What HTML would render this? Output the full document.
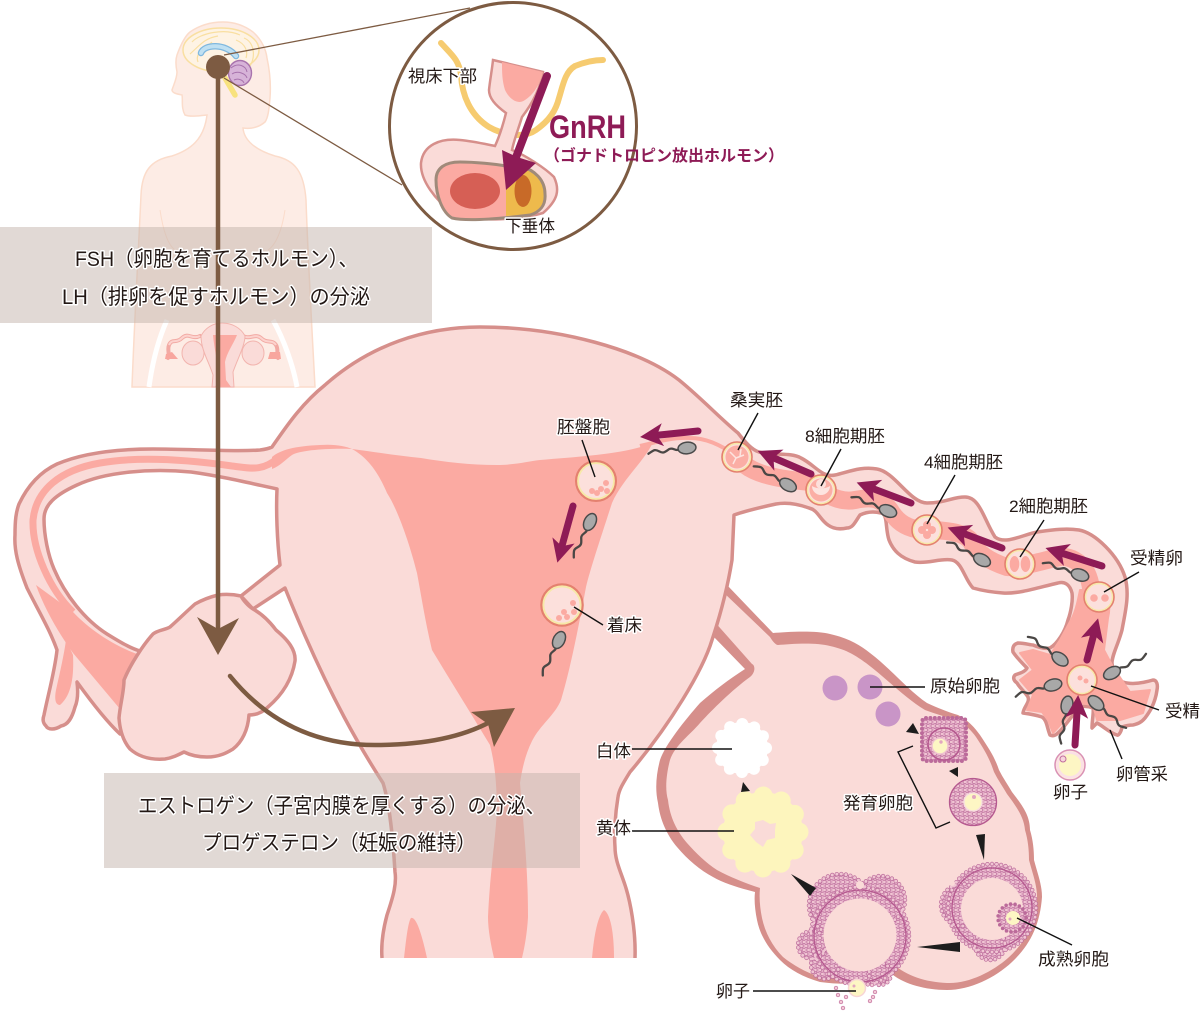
<!DOCTYPE html>
<html lang="ja"><head><meta charset="utf-8"><title>図</title>
<style>
html,body{margin:0;padding:0;background:#fff}
svg{display:block}
text{font-family:"Liberation Sans","Noto Sans CJK JP",sans-serif;fill:#231815}
.t{font-size:17px;paint-order:stroke;stroke:#fff;stroke-width:3px;stroke-linejoin:round}
.b{font-size:21px;paint-order:stroke;stroke:#fff;stroke-width:3px;stroke-linejoin:round}
.l{stroke:#111;stroke-width:1.4;fill:none}
.a{stroke:#8e1b56;stroke-width:7;fill:none;stroke-linecap:round;marker-end:url(#ah)}
</style></head><body>
<svg width="1202" height="1015" viewBox="0 0 1202 1015" xmlns="http://www.w3.org/2000/svg">
<defs>
<marker id="ah" markerUnits="userSpaceOnUse" markerWidth="30" markerHeight="30" refX="14" refY="15" orient="auto"><path d="M24,15 L1,3.5 L7,15 L1,26.5Z" fill="#8e1b56"/></marker>
<pattern id="n" width="4.6" height="8" patternUnits="userSpaceOnUse"><rect width="4.6" height="8" fill="#e3adc6"/><circle cx="1.2" cy="2" r="1.7" fill="#f0c5d3" stroke="#bb6a9a" stroke-width=".7"/><circle cx="3.5" cy="6" r="1.7" fill="#f0c5d3" stroke="#bb6a9a" stroke-width=".7"/></pattern>
<g id="s"><path d="M7,0 c4,-3 7,3 11,1 s6,-4 10,-1 s5,2 11,-1" fill="none" stroke="#4a4745" stroke-width="2.3" stroke-linecap="round"/><ellipse cx="0" cy="0" rx="9" ry="5.8" fill="#a8a8a8" stroke="#4a4a4a" stroke-width="1.5"/></g>
<g id="z"><circle r="15" fill="#f7e9a8" stroke="#e4816f" stroke-width="1.6"/><circle r="12.8" fill="#fce0dc"/></g>
<g id="b3"><circle cx="992" cy="908" r="44"/><circle cx="962" cy="905" r="21"/><circle cx="990" cy="945" r="15"/></g>
<g id="b4"><circle cx="860" cy="936" r="49"/><circle cx="840" cy="905" r="31"/><circle cx="881" cy="900" r="24"/><circle cx="812" cy="945" r="14"/><circle cx="825" cy="965" r="14"/><circle cx="880" cy="974" r="11"/></g>
</defs>

<!-- body silhouette -->
<path d="M207,115 C198,116 190,117 185,115 C181,108 183,100 182,95 C177,94 172,93 172,90 C174,84 177,78 177,72 C175,62 176,58 177,55 C181,44 185,36 190,32 C200,25 212,22 223,22 C235,22 245,26 253,32 C262,40 266,50 267,58 C270,72 271,85 270,98 C269,110 268,118 265,122 C258,128 250,129 243,128 C244,140 255,150 275,156 C295,160 304,172 306,200 C308,260 312,330 315,387 L132,387 C134,330 138,260 141,195 C142,172 150,160 172,156 C190,150 204,140 207,115Z" fill="#fdece5" stroke="#fbdccb" stroke-width="1.5"/>
<path d="M167,320 C158,340 152,365 149,387 M273,320 C284,340 293,365 297,387" stroke="#fff" stroke-width="5" fill="none"/>
<path d="M160,210 C163,230 168,245 175,250 M285,210 C282,230 276,245 268,250" stroke="#fbdccb" stroke-width="1" fill="none"/>
<!-- mini uterus -->
<path d="M200,336 C192,340 188,332 182,338 C176,344 172,338 169,345 C167,350 170,354 168,358 M243,336 C250,340 255,333 261,338 C267,344 272,339 276,345 C279,350 276,354 278,358" stroke="#f2aaa4" stroke-width="4" fill="none" stroke-linecap="round"/>
<path d="M200,336 C192,340 188,332 182,338 C176,344 172,338 169,345 M243,336 C250,340 255,333 261,338 C267,344 272,339 276,345" stroke="#fcd3ce" stroke-width="2" fill="none"/>
<path d="M166,354 L165,359 L178,359 L172,352Z M270,352 L268,359 L281,359 L280,352Z" fill="#f8a69e"/>
<ellipse cx="193" cy="353" rx="11" ry="12" fill="#fadbd8" stroke="#f2b4ae"/>
<ellipse cx="253" cy="353" rx="11" ry="12" fill="#fadbd8" stroke="#f2b4ae"/>
<path d="M201,336 C205,328 213,323 222,323 C232,323 241,328 245,336 C245,345 238,358 233,372 L234,387 L212,387 L213,375 C209,362 201,350 201,336Z" fill="#fadbd8" stroke="#f2b4ae"/>
<path d="M213,335 L237,335 C233,345 227,352 225,362 L226,380 L231,387 L215,387 L219,380 C218,362 214,348 213,335Z" fill="#fbaaa2"/>
<!-- brain -->
<ellipse cx="221" cy="50" rx="38" ry="22" fill="#fef3e4" stroke="#f9dfa1" stroke-width="1.5"/>
<path d="M192,42 C200,33 225,28 240,35 M190,54 C200,45 205,38 218,36 M244,38 C254,42 256,56 250,66 M198,62 C194,52 208,46 212,42 M236,40 C246,44 248,52 246,58" stroke="#f9dfa1" stroke-width="1.2" fill="none"/>
<path d="M201,53 C204,44 226,43 236,56" fill="none" stroke="#7fb8df" stroke-width="6.5" stroke-linecap="round"/>
<path d="M201,53 C204,44 226,43 236,56" fill="none" stroke="#bfe0f2" stroke-width="4" stroke-linecap="round"/>
<path d="M225,78 L235,95" stroke="#f8e27e" stroke-width="5.5" stroke-linecap="round" fill="none"/>
<ellipse cx="240" cy="73" rx="11.5" ry="12.5" fill="#d7b3d8" stroke="#a873ad" stroke-width="1.4"/>
<path d="M231,68 C238,62 246,66 247,72 M232,74 C238,70 246,74 247,78 M234,80 C238,78 243,80 244,83" stroke="#a873ad" fill="none"/>

<!-- big ovary shapes (behind uterus) -->
<path d="M727,585 L773,633 C785,632 815,630 830,634 C848,638 860,645 870,653 C890,668 908,690 927,703 C938,708 948,712 958,715 C968,720 975,728 980,735 C990,750 995,758 999,770 C1003,778 1008,785 1012,792 C1022,805 1030,815 1030,830 C1033,840 1034,850 1034,860 C1038,875 1042,885 1042,897 C1040,925 1030,945 1012,962 C995,978 970,990 947,990 C925,990 905,984 893,975 C875,983 850,986 820,982 C803,977 790,970 780,960 C768,948 760,935 757,920 C755,910 754,900 755,892 C740,888 725,884 713,877 C700,870 688,860 677,847 C667,835 660,820 658,803 C655,790 656,775 660,760 C665,745 685,720 700,703 C715,690 728,680 745,669 L712,635 L700,620Z" fill="#d68f8b"/>
<path d="M723,592 L770,637 C773,642 776,645 778,645 C790,644 815,642 830,646 C848,650 856,656 866,663 C886,678 905,698 925,710 C936,714 946,717 956,720 C965,724 971,730 976,737 C986,752 990,760 994,772 C998,780 1003,787 1007,794 C1016,806 1024,817 1025,830 C1028,840 1029,850 1029,860 C1033,875 1037,885 1037,897 C1035,922 1026,942 1008,958 C992,972 968,984 947,983 C925,982 907,976 893,964 C875,975 850,980 820,977 C805,972 793,965 783,957 C772,946 765,932 762,918 C760,908 759,898 760,888 C745,883 730,877 717,870 C706,863 696,853 687,843 C677,831 670,818 668,800 C665,790 666,775 670,760 C675,745 690,735 700,723 C712,710 732,690 750,677 C756,672 755,665 752,664 L713,620Z" fill="#fadbd8"/>

<!-- uterus + tubes -->
<path id="u" d="M382,958 C381,945 383,930 387,915 C392,900 397,885 395,872 C393,840 390,805 383,783 C365,755 330,700 285,588 L253,609 L241,596 L280,565 C277,540 276,510 277,489 C245,482 220,476 191,472 C150,468 105,472 77,485 C55,495 44,505 44,519 C44,535 48,555 54,569 C65,595 85,620 107,634 C120,642 130,648 140,651 L150,700 L120,734 C105,720 90,700 77,682 C78,690 78,700 75,707 C72,718 68,725 61,726 C55,730 48,730 46,726 C42,722 43,718 44,715 C48,695 55,670 57,650 C50,630 38,610 27,588 C18,565 14,550 15,535 C15,520 16,512 19,504 C28,485 40,472 57,464 C85,452 120,449 153,449 C190,449 235,452 260,450 C268,449 270,448 272,447 C284,430 300,405 325,385 C370,345 425,327 480,327 C560,327 640,350 679,380 C700,397 722,420 738,433 C745,442 752,450 759,452 C775,456 790,452 801,458 C815,465 822,478 835,475 C848,472 862,466 877,469 C895,472 910,503 927,503 C945,503 952,497 965,497 C980,497 984,520 995,537 C1005,545 1022,535 1037,532 C1052,530 1065,528 1079,530 C1095,533 1118,555 1125,577 C1130,595 1125,613 1122,630 C1118,645 1112,655 1112,663 C1113,675 1118,682 1123,682 C1132,685 1143,683 1153,680 C1157,680 1158,685 1157,690 C1155,705 1148,714 1145,718 C1140,724 1136,724 1133,725 C1128,725 1125,726 1122,727 C1121,733 1118,736 1117,735 C1110,733 1103,726 1097,723 L1092,728 C1092,720 1094,712 1093,708 C1088,706 1084,706 1080,707 C1072,715 1064,728 1058,733 C1055,736 1052,736 1050,735 C1047,728 1047,720 1042,717 C1036,715 1030,714 1023,713 C1024,706 1030,703 1028,697 C1024,691 1020,688 1017,683 C1013,680 1013,677 1015,675 C1020,673 1025,672 1027,668 C1022,663 1017,658 1013,652 C1012,647 1014,644 1018,643 C1025,643 1030,645 1033,645 C1040,648 1045,649 1050,648 C1057,644 1065,632 1068,620 C1071,612 1073,600 1072,593 C1070,585 1065,581 1058,583 C1040,587 1020,594 1003,593 C990,592 980,590 973,588 C965,580 962,562 952,560 C940,558 928,564 915,562 C900,558 893,550 889,540 C885,528 888,514 881,513 C873,511 866,512 860,515 C855,522 853,528 847,528 C838,530 832,528 828,525 C820,520 818,510 809,508 C798,504 787,502 776,504 C762,507 748,510 734,515 L732,560 C728,585 722,610 712,640 C703,670 670,725 630,772 C622,785 619,790 618,797 C615,815 614,835 615,847 C615,860 620,870 625,885 C630,900 636,930 635,958" fill="#fadbd8" stroke="#d68f8b" stroke-width="3.5" stroke-linejoin="round"/>

<!-- left tube lumen -->
<path d="M278,458 C262,472 250,468 232,466 C190,460 140,456 100,463 C60,470 36,490 33,520 C32,550 50,590 73,612" fill="none" stroke="#fbaaa2" stroke-width="7"/>
<path d="M73,612 C85,625 110,645 140,655 L130,715 L120,709 L73,653 C60,635 45,610 36,585Z" fill="#fbaaa2"/>
<path d="M66,640 L73,655 C74,675 72,695 60,705 C54,705 55,695 56,690 C60,672 64,655 66,640Z" fill="#fbaaa2"/>
<!-- cavity -->
<path d="M272,457 C280,450 295,446 320,445 C335,444 345,446 352,449 C375,452 400,456 421,458 C445,462 470,465 497,465 C515,465 530,461 540,460 C575,457 610,455 637,448 L652,444 C645,460 622,480 612,503 C600,540 590,570 586,587 C578,630 570,670 561,700 C555,715 540,725 532,741 C525,755 522,770 520,783 C524,830 528,870 528,917 C527,935 524,950 522,958 L494,958 C491,945 488,930 488,917 C490,870 497,830 497,803 C496,780 495,765 490,745 C475,720 450,680 432,650 C425,620 422,600 417,573 C410,545 398,510 387,493 C378,472 368,458 352,449 C330,448 300,450 292,455 C285,460 280,466 272,469Z" fill="#fbaaa2"/>
<path d="M404,958 C406,940 408,922 411,918 C417,916 423,940 427,958Z" fill="#fbaaa2"/>
<path d="M592,958 C594,935 598,915 604,910 C612,915 614,940 614,958Z" fill="#fbaaa2"/>

<!-- right tube lumen -->
<path d="M640,446 C660,441 675,437 690,438 C705,438 720,444 736,456" fill="none" stroke="#fbaaa2" stroke-width="4"/>
<path d="M745,465 C760,477 790,480 810,482 C825,495 840,503 855,500 C870,497 880,497 890,510 C897,522 908,530 926,530 C945,530 962,532 970,540 C975,550 985,560 1007,567 C1020,568 1045,560 1060,557 C1070,556 1080,562 1085,570 C1090,578 1092,590 1092,600" fill="none" stroke="#fbaaa2" stroke-width="18" stroke-linecap="round" stroke-linejoin="round"/>
<path d="M1080,590 L1105,590 C1110,600 1110,610 1108,618 L1104,650 L1113,667 L1130,692 L1150,690 L1143,713 L1120,720 L1097,720 L1093,705 L1080,703 L1065,720 L1053,733 L1048,720 L1042,712 L1027,710 L1033,695 L1020,680 L1033,670 L1020,653 L1033,650 L1050,655 L1060,640 L1072,618 C1076,610 1078,600 1080,590Z" fill="#fbaaa2" stroke="#fbaaa2" stroke-width="2" stroke-linejoin="round"/>

<!-- left ovary -->
<path d="M241,596 C232,594 225,594 218,595 C210,597 202,600 195,604 C186,612 178,620 170,627 C165,630 158,630 153,634 C143,645 130,665 124,680 C124,692 120,705 119,718 C120,733 124,742 130,749 C140,758 152,760 165,759 C172,758 178,755 184,752 C192,756 200,757 207,757 C220,757 228,752 233,749 C242,742 248,730 249,715 C258,715 264,711 268,707 C282,695 292,680 295,661 C296,650 288,640 276,630 C270,622 262,614 253,609 C248,606 243,600 241,596Z" fill="#fadbd8" stroke="#d68f8b" stroke-width="3.5" stroke-linejoin="round"/>

<!-- ovary contents -->
<circle cx="835" cy="688" r="12.5" fill="#c995c7"/><circle cx="870" cy="687" r="12.5" fill="#c995c7"/><circle cx="888" cy="714" r="12.5" fill="#c995c7"/>
<!-- follicle 1 -->
<rect x="922" y="718" width="44" height="43" rx="4" fill="url(#n)"/>
<rect x="922" y="718" width="44" height="43" rx="4" fill="none" stroke="#bb6a9a" stroke-width="4" stroke-dasharray="0 4.4" stroke-linecap="round"/>
<circle cx="944" cy="744" r="16" fill="url(#n)" stroke="#b5588f" stroke-width="1.5"/>
<circle cx="940" cy="746" r="8" fill="#fdf6c4" stroke="#f0c3d0" stroke-width="1.5"/><circle cx="941" cy="742" r="1.7" fill="#e2a6c0"/>
<!-- follicle 2 -->
<circle cx="973" cy="802" r="23.5" fill="url(#n)" stroke="#b5588f" stroke-width="1.3"/>
<circle cx="973" cy="802" r="9" fill="#fdf6c4" stroke="#f8dfdf" stroke-width="1.5"/><circle cx="974" cy="797" r="2" fill="#e2a6c0"/>
<!-- follicle 3 -->
<use href="#b3" fill="url(#n)"/>
<use href="#b3" fill="none" stroke="#bb6a9a" stroke-width="4.4" stroke-dasharray="0 4.6" stroke-linecap="round"/>
<use href="#b3" fill="none" stroke="#f0c5d3" stroke-width="3" stroke-dasharray="0 4.6" stroke-linecap="round"/>
<circle cx="992" cy="908" r="40" fill="none" stroke="#b5588f" stroke-width="1.3"/>
<circle cx="992" cy="909" r="31" fill="#fadbd8"/>
<circle cx="952" cy="883" r="3" fill="#fadbd8"/>
<circle cx="1012" cy="918" r="14" fill="url(#n)"/>
<circle cx="1012" cy="918" r="14" fill="none" stroke="#bb6a9a" stroke-width="3.6" stroke-dasharray="0 4.6" stroke-linecap="round"/>
<circle cx="1013" cy="918" r="7" fill="#fdf6c4"/><circle cx="1010" cy="919" r="1.5" fill="#e2a6c0"/>
<!-- follicle 4 -->
<use href="#b4" fill="url(#n)"/>
<use href="#b4" fill="none" stroke="#bb6a9a" stroke-width="4.4" stroke-dasharray="0 4.6" stroke-linecap="round"/>
<use href="#b4" fill="none" stroke="#f0c5d3" stroke-width="3" stroke-dasharray="0 4.6" stroke-linecap="round"/>
<circle cx="860" cy="936" r="46" fill="none" stroke="#b5588f" stroke-width="1.3"/>
<circle cx="860" cy="935" r="36.5" fill="#fadbd8"/>
<circle cx="860" cy="885" r="4" fill="#fadbd8"/>
<g fill="#f3c9d5" stroke="#c06d9d" stroke-width=".7"><circle cx="838" cy="995" r="1.8"/><circle cx="841" cy="1002" r="1.8"/><circle cx="843" cy="1008" r="1.8"/><circle cx="836" cy="988" r="1.8"/><circle cx="872" cy="985" r="1.8"/><circle cx="875" cy="992" r="1.8"/><circle cx="870" cy="1001" r="1.8"/><circle cx="873" cy="997" r="1.8"/><circle cx="846" cy="997" r="1.8"/></g>
<circle cx="857" cy="988" r="8.5" fill="#fdf6c4" stroke="#f8d5d5" stroke-width="1.5"/><circle cx="854" cy="986" r="1.5" fill="#e2a6c0"/>
<!-- white body -->
<circle cx="742" cy="748" r="26" fill="#fff"/>
<circle cx="742" cy="748" r="24" fill="none" stroke="#fff" stroke-width="12" stroke-dasharray="0 12.57" stroke-linecap="round"/>
<!-- yellow body -->
<circle cx="763" cy="832" r="40" fill="#fdf5bd"/>
<circle cx="763" cy="832" r="36" fill="none" stroke="#fdf5bd" stroke-width="19" stroke-dasharray="0 18.85" stroke-linecap="round"/>
<polygon points="763,820 770,824 776,823 775,830 775,838 767,840 763,847 756,842 750,835 755,829 755,822" fill="#fadbd8"/>
<!-- triangles -->
<g fill="#1d1d1d"><polygon points="906,732 913,723 919,734"/><polygon points="949,771 958,767 958,777"/><polygon points="976,835 985,834 984,860"/><polygon points="960,942 960,952 917,947"/><polygon points="816,888 810,896 791,874"/><polygon points="743,782 741,792 750,791"/></g>
<path class="l" d="M913,746 L898,752 L936,828 L950,822"/>

<!-- zygotes -->
<use href="#z" x="737" y="457"/>
<circle cx="737" cy="457" r="11.5" fill="#fbaea5"/>
<path d="M730,452 L736,458 L733,464 M736,458 L744,455 M741,449 L740,456" stroke="#fde4e0" stroke-width="1.5" fill="none"/>
<use href="#z" x="821" y="490"/>
<circle cx="821" cy="490" r="11.5" fill="#fbaea5"/><path d="M812,486 A9,9 0 0 0 830,486 A12,7 0 0 1 812,486Z" fill="#fde4e0"/><circle cx="821" cy="484" r="5" fill="#fce0dc"/>
<use href="#z" x="927" y="530"/>
<g fill="#fbaaa2"><circle cx="922" cy="530" r="4"/><circle cx="932" cy="530" r="4"/><circle cx="927" cy="525" r="4"/><circle cx="927" cy="535" r="4"/></g>
<use href="#z" x="1020" y="564"/>
<ellipse cx="1014.5" cy="564" rx="4.8" ry="8" fill="#fbaaa2"/><ellipse cx="1025.5" cy="564" rx="4.8" ry="8" fill="#fbaaa2"/>
<use href="#z" x="1099" y="597"/>
<circle cx="1094" cy="598" r="3.8" fill="#fbaaa2"/><circle cx="1105" cy="598" r="3.8" fill="#fbaaa2"/>
<use href="#z" x="1082" y="680"/>
<circle cx="1080" cy="678" r="2.5" fill="#fbaaa2"/><circle cx="1086" cy="681" r="2.5" fill="#fbaaa2"/>
<g transform="translate(596,481) scale(1.33)"><use href="#z"/></g>
<g fill="#fbaaa2"><circle cx="606" cy="483" r="3"/><circle cx="601" cy="489" r="3"/><circle cx="592" cy="491" r="3"/><circle cx="597" cy="493" r="3"/><circle cx="607" cy="491" r="3"/></g>
<g transform="translate(562,605) scale(1.38)"><use href="#z"/></g>
<g fill="#fbaaa2"><circle cx="564" cy="612" r="3"/><circle cx="559" cy="618" r="3"/><circle cx="567" cy="617" r="3"/><circle cx="573" cy="603" r="3"/><circle cx="574" cy="612" r="3"/></g>
<!-- egg -->
<circle cx="1070" cy="765" r="15" fill="#fdf6c4" stroke="#d98fb6" stroke-width="1.5"/>
<circle cx="1070" cy="765" r="12.5" fill="#fdf6c4" stroke="#fbe0e6" stroke-width="3"/>
<circle cx="1063" cy="759" r="3" fill="#f8d5dc" stroke="#c06d9d"/>

<!-- sperm -->
<use href="#s" transform="translate(687,448) rotate(173)"/>
<use href="#s" transform="translate(788,485) rotate(210)"/>
<use href="#s" transform="translate(888,511) rotate(202)"/>
<use href="#s" transform="translate(982,560) rotate(208)"/>
<use href="#s" transform="translate(1080,575) rotate(199)"/>
<use href="#s" transform="translate(590,522) rotate(116)"/>
<use href="#s" transform="translate(559,640) rotate(116)"/>
<use href="#s" transform="translate(1060,659) rotate(216)"/>
<use href="#s" transform="translate(1053,685) rotate(164)"/>
<use href="#s" transform="translate(1112,673) rotate(-28)"/>
<use href="#s" transform="translate(1067,705) rotate(100)"/>
<use href="#s" transform="translate(1096,703) rotate(41)"/>

<!-- purple arrows -->
<line class="a" x1="698" y1="431" x2="650" y2="436"/>
<line class="a" x1="811" y1="474" x2="767" y2="455"/>
<line class="a" x1="911" y1="503" x2="866" y2="486"/>
<line class="a" x1="1002" y1="548" x2="957" y2="531"/>
<line class="a" x1="1102" y1="566" x2="1055" y2="551"/>
<line class="a" x1="1087" y1="660" x2="1095.5" y2="628"/>
<line class="a" x1="573" y1="506" x2="560" y2="553"/>
<line class="a" x1="1075" y1="745" x2="1077.5" y2="705"/>

<!-- leader lines -->
<g class="l">
<path d="M758,413 L738,450 M582,440 L595,477 M841,449 L821,486 M955,475 L927,524 M1044,520 L1020,557 M1139,572 L1104,592 M574,607 L603,625 M870,687 L925,687 M1091,686 L1159,710 M1110,730 L1122,759 M632,749 L732,749 M632,831 L734,831 M753,991 L856,991 M1017,918 L1072,945"/>
</g>

<!-- text boxes -->
<rect x="0" y="227" width="432" height="96" fill="rgb(196,180,172)" opacity=".5"/>
<rect x="104" y="773" width="476" height="95" fill="rgb(196,180,172)" opacity=".5"/>

<!-- zoom lines + inset -->
<path d="M224,55 L470,8 M224,78 L402,185" stroke="#7d5b42" stroke-width="1.3" fill="none"/>
<circle cx="513" cy="126" r="123.5" fill="#fff" stroke="#7d5b42" stroke-width="3"/>
<path d="M441,43 C452,55 459,60 461,75 C462,95 470,115 489,127 C505,136 525,138 536,130 C550,120 556,110 559,98 C563,85 565,72 575,66 C585,62 595,60 603,60" fill="none" stroke="#f6cb70" stroke-width="6" stroke-linecap="round"/>
<path d="M493,60 L543,72 C541,85 535,100 522,117 C518,130 514,140 512,150 C525,155 545,168 554,177 C560,190 558,200 543,213 C520,220 480,222 455,215 C435,200 420,180 421,163 C423,145 440,138 460,140 C472,141 485,144 495,146 C500,135 503,125 506,113 C495,105 489,98 489,90 C490,80 492,70 493,60Z" fill="#fadbd8" stroke="#d68f8b" stroke-width="2.5"/>
<path d="M502,62 L543,72 C540,85 533,95 525,100 C518,105 510,100 505,90 C502,80 502,72 502,62Z" fill="#fbaaa2"/>
<path d="M506,168 L520,166 C535,170 545,180 545,194 C546,205 540,212 530,215 L506,216Z" fill="#eeba4c"/>
<path d="M506,166 L506,216 C485,220 465,221 452,218 C442,212 436,195 436,180 C436,168 445,162 460,162 C475,162 495,164 506,166Z" fill="#fbaaa2"/>
<path d="M506,166 C495,164 475,162 460,162 C445,162 436,168 436,180 C436,195 442,212 452,218 C465,221 490,220 530,215 C540,212 546,205 545,194 C545,180 535,170 520,166 C515,166 510,166 506,166Z" fill="none" stroke="#a08a7a" stroke-width="3"/>
<ellipse cx="475" cy="191" rx="25" ry="18" fill="#d65f55"/>
<ellipse cx="523" cy="191" rx="8.5" ry="16" fill="#c86a28"/>
<line x1="547" y1="76" x2="515" y2="160" stroke="#8e1b56" stroke-width="8" stroke-linecap="round"/>
<polygon points="506,190 502,150 517,157 536,163" fill="#8e1b56"/>

<!-- brown -->
<line x1="218" y1="67" x2="218" y2="635" stroke="#7d5b42" stroke-width="4.5"/>
<circle cx="218" cy="67" r="12" fill="#7d5b42"/>
<polygon points="218,655 197,617 218,629 239,618" fill="#7d5b42"/>
<path d="M230,676 C270,725 320,745 375,745 C420,745 460,738 490,722" fill="none" stroke="#7d5b42" stroke-width="4.5" stroke-linecap="round"/>
<polygon points="515,708 471,712 488,724 494,747" fill="#7d5b42"/>

<!-- labels -->
<text class="t" x="408" y="82" textLength="69" lengthAdjust="spacingAndGlyphs">視床下部</text>
<text class="t" x="505" y="232" textLength="50" lengthAdjust="spacingAndGlyphs">下垂体</text>
<text x="549" y="138" style="font-size:32px;font-weight:bold;fill:#8e1b56" textLength="77" lengthAdjust="spacingAndGlyphs">GnRH</text>
<text x="544" y="161" style="font-size:16px;font-weight:bold;fill:#8e1b56" textLength="240" lengthAdjust="spacingAndGlyphs">（ゴナドトロピン放出ホルモン）</text>
<text class="b" x="75" y="266" textLength="283" lengthAdjust="spacingAndGlyphs">FSH（卵胞を育てるホルモン）、</text>
<text class="b" x="62" y="304" textLength="308" lengthAdjust="spacingAndGlyphs">LH（排卵を促すホルモン）の分泌</text>
<text class="b" x="138" y="813" textLength="407" lengthAdjust="spacingAndGlyphs">エストロゲン（子宮内膜を厚くする）の分泌、</text>
<text class="b" x="202" y="850" textLength="274" lengthAdjust="spacingAndGlyphs">プロゲステロン（妊娠の維持）</text>
<text class="t" x="730" y="406" textLength="53" lengthAdjust="spacingAndGlyphs">桑実胚</text>
<text class="t" x="557" y="433" textLength="53" lengthAdjust="spacingAndGlyphs">胚盤胞</text>
<text class="t" x="805" y="442" textLength="80" lengthAdjust="spacingAndGlyphs">8細胞期胚</text>
<text class="t" x="924" y="468" textLength="79" lengthAdjust="spacingAndGlyphs">4細胞期胚</text>
<text class="t" x="1009" y="512" textLength="79" lengthAdjust="spacingAndGlyphs">2細胞期胚</text>
<text class="t" x="1130" y="564" textLength="53" lengthAdjust="spacingAndGlyphs">受精卵</text>
<text class="t" x="607" y="631" textLength="35" lengthAdjust="spacingAndGlyphs">着床</text>
<text class="t" x="930" y="692" textLength="70" lengthAdjust="spacingAndGlyphs">原始卵胞</text>
<text class="t" x="1165" y="717" textLength="35" lengthAdjust="spacingAndGlyphs">受精</text>
<text class="t" x="1116" y="780" textLength="52" lengthAdjust="spacingAndGlyphs">卵管采</text>
<text class="t" x="1053" y="798" textLength="35" lengthAdjust="spacingAndGlyphs">卵子</text>
<text class="t" x="843" y="809" textLength="70" lengthAdjust="spacingAndGlyphs">発育卵胞</text>
<text class="t" x="596" y="757" textLength="35" lengthAdjust="spacingAndGlyphs">白体</text>
<text class="t" x="596" y="834" textLength="35" lengthAdjust="spacingAndGlyphs">黄体</text>
<text class="t" x="716" y="997" textLength="34" lengthAdjust="spacingAndGlyphs">卵子</text>
<text class="t" x="1038" y="965" textLength="71" lengthAdjust="spacingAndGlyphs">成熟卵胞</text>
</svg>
</body></html>
